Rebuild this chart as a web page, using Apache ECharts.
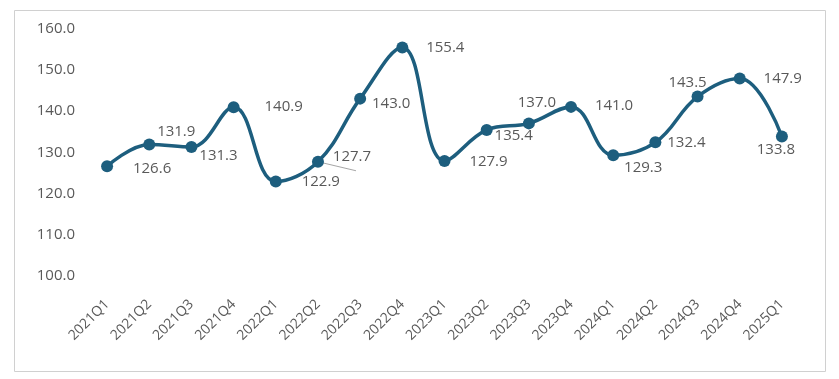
<!DOCTYPE html>
<html><head><meta charset="utf-8">
<script src="https://cdn.jsdelivr.net/npm/echarts@6/dist/echarts.min.js"></script>
<style>html,body{margin:0;padding:0;background:#fff}#c{width:839px;height:379px}</style>
</head><body><div id="c"></div>
<script>
const categories = ['2021Q1','2021Q2','2021Q3','2021Q4','2022Q1','2022Q2','2022Q3','2022Q4','2023Q1','2023Q2','2023Q3','2023Q4','2024Q1','2024Q2','2024Q3','2024Q4','2025Q1'];
const values = [126.6,131.9,131.3,140.9,122.9,127.7,143.0,155.4,127.9,135.4,137.0,141.0,129.3,132.4,143.5,147.9,133.8];
const yTicks = [100,110,120,130,140,150,160];

// label offsets (styling only)
const labelOffsets = [[45,2],[27,-13],[27,9],[50,-1],[45,0],[34,-5],[31,5],[43,0],[44,1],[27,6],[8,-21],[43,-1],[30,13],[31,0],[-10,-14],[43,0],[-6,13]];

const FONT = '"Open Sans", "Noto Sans", sans-serif';
const LINE = '#1D5E7E';

const data = values.map((v,i)=>({
  value: v,
  label: {offset: labelOffsets[i]}
}));

const border = {type:'rect', shape:{x:14.5,y:10.5,width:811,height:361}, style:{fill:'none',stroke:'#d0d0d0',lineWidth:1}, silent:true};

const chart = echarts.init(document.getElementById('c'), null, {renderer:'canvas'});
chart.setOption({
  animation:false,
  backgroundColor:'#fff',
  graphic:[border],
  grid:{left:86,right:36,top:28.5,bottom:103,containLabel:false},
  xAxis:{
    type:'category', data:categories, boundaryGap:true,
    axisLine:{show:false}, axisTick:{show:false},
    axisLabel:{rotate:45, margin:26, color:'#595959', fontSize:14, fontFamily:FONT, interval:0},
    splitLine:{show:false}
  },
  yAxis:{
    type:'value', min:yTicks[0], max:yTicks[yTicks.length-1], interval:10,
    axisLine:{show:false}, axisTick:{show:false}, splitLine:{show:false},
    axisLabel:{margin:11, color:'#595959', fontSize:15, fontFamily:FONT, formatter:v=>v.toFixed(1)}
  },
  series:[{
    type:'line', data:data, smooth:0.4,
    symbol:'circle', symbolSize:12,
    lineStyle:{color:LINE,width:3.5},
    itemStyle:{color:LINE},
    z:3,
    label:{show:true, position:'inside', color:'#595959', fontSize:15, fontFamily:FONT, formatter:p=>p.value.toFixed(1)}
  }]
});
// leader line for the 2022Q2 label, anchored at the point via the axis scale
const p = chart.convertToPixel({gridIndex:0},[categories[5],values[5]]);
chart.setOption({graphic:[border,
  {type:'line', shape:{x1:p[0],y1:p[1],x2:p[0]+38,y2:p[1]+9}, style:{stroke:'#a6a6a6',lineWidth:1}, z:1, silent:true}]});
</script></body></html>
